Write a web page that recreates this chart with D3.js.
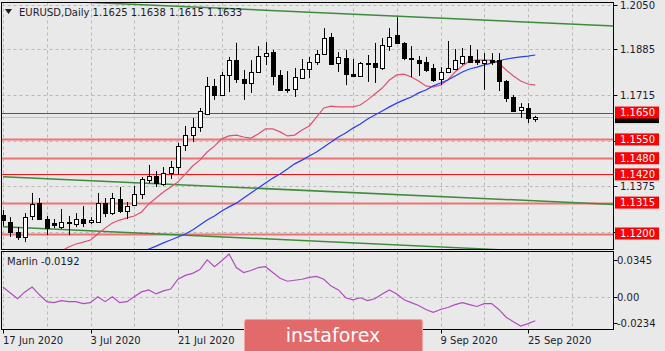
<!DOCTYPE html>
<html><head><meta charset="utf-8">
<script src="https://cdn.jsdelivr.net/npm/d3@7"></script>
<style>
html,body{margin:0;padding:0;background:#e9e9e9;overflow:hidden}
svg{display:block}
text{font-family:"DejaVu Sans",Verdana,sans-serif;}
</style></head><body>
<svg id="c" width="665" height="351"></svg>
<script>
// ---------- DATA ----------
const symbol = "EURUSD,Daily";
const dateLabels = ["17 Jun 2020","3 Jul 2020","21 Jul 2020","9 Sep 2020","25 Sep 2020"];
const dateIndex = [0,12,24,60,72];
const dateTickIndex = [0,12,24,36,48,60,72];

const open  = [1.1269,1.1243,1.1206,1.1187,1.1265,1.1313,1.1254,1.1239,1.1224,1.1243,1.1235,1.1254,1.1243,1.1243,1.1313,1.1276,1.1328,1.1284,1.1306,1.1347,1.1399,1.1414,1.1384,1.1425,1.1447,1.1529,1.1566,1.1596,1.1644,1.1749,1.1715,1.1790,1.1845,1.1775,1.1760,1.1801,1.1860,1.1875,1.1790,1.1738,1.1738,1.1778,1.1812,1.1838,1.1868,1.1931,1.1834,1.1853,1.1793,1.1786,1.1834,1.1834,1.1816,1.1897,1.1938,1.1909,1.1853,1.1845,1.1838,1.1816,1.1775,1.1801,1.1812,1.1834,1.1860,1.1845,1.1834,1.1845,1.1845,1.1767,1.1708,1.1659,1.1667,1.1625];
const high  = [1.1287,1.1261,1.1224,1.1276,1.1351,1.1332,1.1265,1.1254,1.1291,1.1265,1.1276,1.1302,1.1261,1.1351,1.1332,1.1351,1.1373,1.1317,1.1377,1.1410,1.1455,1.1432,1.1447,1.1470,1.1537,1.1600,1.1630,1.1667,1.1782,1.1775,1.1801,1.1857,1.1909,1.1808,1.1845,1.1897,1.1912,1.1883,1.1808,1.1804,1.1816,1.1849,1.1857,1.1883,1.1964,1.1946,1.1875,1.1883,1.1849,1.1838,1.1864,1.1909,1.1927,1.1964,1.2005,1.1912,1.1897,1.1860,1.1857,1.1831,1.1819,1.1916,1.1886,1.1890,1.1901,1.1883,1.1871,1.1871,1.1871,1.1771,1.1715,1.1685,1.1685,1.1638];
const low   = [1.1228,1.1187,1.1176,1.1168,1.1250,1.1250,1.1194,1.1220,1.1217,1.1194,1.1224,1.1224,1.1235,1.1240,1.1261,1.1269,1.1276,1.1254,1.1302,1.1328,1.1388,1.1373,1.1377,1.1403,1.1421,1.1507,1.1540,1.1578,1.1640,1.1697,1.1711,1.1726,1.1760,1.1697,1.1723,1.1797,1.1827,1.1752,1.1730,1.1723,1.1708,1.1775,1.1778,1.1827,1.1864,1.1827,1.1801,1.1752,1.1782,1.1782,1.1764,1.1760,1.1808,1.1879,1.1905,1.1845,1.1782,1.1786,1.1801,1.1764,1.1752,1.1797,1.1808,1.1827,1.1834,1.1827,1.1734,1.1827,1.1730,1.1689,1.1652,1.1630,1.1611,1.1615];
const close = [1.1250,1.1206,1.1187,1.1261,1.1310,1.1254,1.1220,1.1232,1.1243,1.1238,1.1254,1.1239,1.1250,1.1313,1.1276,1.1332,1.1284,1.1302,1.1347,1.1403,1.1414,1.1388,1.1425,1.1447,1.1525,1.1566,1.1596,1.1656,1.1749,1.1715,1.1790,1.1845,1.1775,1.1760,1.1801,1.1860,1.1871,1.1786,1.1734,1.1734,1.1782,1.1812,1.1838,1.1868,1.1927,1.1831,1.1857,1.1793,1.1786,1.1834,1.1831,1.1819,1.1901,1.1931,1.1909,1.1853,1.1849,1.1834,1.1808,1.1771,1.1801,1.1816,1.1845,1.1860,1.1838,1.1838,1.1845,1.1838,1.1767,1.1704,1.1656,1.1671,1.1630,1.1633];

const maFast = [null,null,null,null,null,null,null,null,
 1.1135,1.1150,1.1161,1.1168,1.1176,1.1198,1.1220,1.1239,1.1250,1.1258,1.1265,1.1280,1.1310,1.1332,1.1354,1.1373,1.1392,
 1.1421,1.1451,1.1473,1.1503,1.1525,1.1552,1.1563,1.1566,1.1559,1.1555,1.1570,1.1589,1.1589,1.1578,1.1563,1.1566,1.1585,1.1600,1.1633,1.1667,1.1674,1.1671,1.1671,1.1671,1.1678,
 1.1697,1.1719,1.1741,1.1771,1.1790,1.1793,1.1782,1.1767,1.1749,1.1745,1.1752,1.1771,1.1801,1.1823,1.1842,1.1845,1.1845,1.1845,1.1834,1.1808,1.1786,1.1767,1.1756,1.1752];
const maSlow = [null,null,null,null,null,null,null,null,null,null,null,null,null,null,null,null,null,null,null,
 1.1130,
 1.1142,1.1153,1.1165,1.1176,1.1187,1.1198,1.1213,1.1232,1.1250,1.1265,
 1.1284,1.1299,1.1313,1.1332,1.1351,1.1369,1.1388,1.1406,1.1421,1.1440,
 1.1459,1.1473,1.1488,1.1503,1.1522,1.1540,1.1559,1.1574,1.1592,1.1607,
 1.1626,1.1641,1.1656,1.1671,1.1685,1.1697,1.1708,1.1723,1.1734,1.1749,
 1.1760,1.1771,1.1786,1.1801,1.1812,1.1819,1.1827,1.1834,1.1842,1.1849,
 1.1853,1.1857,1.1860,1.1864];

const marlin = [0.0079,0.0032,-0.0015,0.0040,0.0079,0.0017,-0.0038,-0.0046,-0.0030,-0.0038,
 -0.0038,-0.0054,-0.0046,0.0001,-0.0038,0.0001,-0.0046,-0.0038,0.0001,0.0040,
 0.0056,0.0024,0.0048,0.0063,0.0142,0.0173,0.0189,0.0220,0.0298,0.0243,
 0.0290,0.0345,0.0236,0.0196,0.0212,0.0236,0.0243,0.0196,0.0150,0.0126,
 0.0134,0.0142,0.0157,0.0165,0.0142,0.0087,0.0056,-0.0007,-0.0023,-0.0007,
 -0.0030,-0.0015,0.0024,0.0056,0.0024,-0.0023,-0.0046,-0.0069,-0.0101,-0.0124,
 -0.0101,-0.0085,-0.0062,-0.0046,-0.0062,-0.0077,-0.0054,-0.0054,-0.0101,-0.0163,
 -0.0200,-0.0234,-0.0215,-0.0192];

const priceTicks = [1.2050,1.1885,1.1715,1.1545,1.1375,1.1205];
const priceTickLabels = ["1.2050","1.1885","1.1715","1.1375"];
const marlinTicks = [0.0345,0,-0.0234];
const marlinTickLabels = ["0.0345","0.00","-0.0234"];
const levels = [1.1650,1.1550,1.1480,1.1420,1.1315,1.1200];
const strongLevels = [1.1650,1.1420];
const trendTop = [[0,1.2074],[84,1.1972]];
const trendMid = [[0,1.1411],[84,1.1308]];
const trendLow = [[0,1.1225],[84,1.1120]];

// ---------- LAYOUT ----------
const W=665,H=351;
const M={l:1.5,r:613.5,t:2.5,b:249.5};
const I={t:251.5,b:329.5};
const svg=d3.select("#c");
svg.append("rect").attr("width",W).attr("height",H).attr("fill","#e9e9e9");

const x=d3.scaleLinear().domain([0,72]).range([3,528]);
const y=d3.scaleLinear().domain([1.12,1.205]).range([233.5,5]);
const ym=d3.scaleLinear().domain([-0.0234,0.0345]).range([326,254]);

const defs=svg.append("defs");
defs.append("clipPath").attr("id","cm").append("rect").attr("x",M.l).attr("y",M.t).attr("width",M.r-M.l).attr("height",M.b-M.t);
defs.append("clipPath").attr("id","ci").append("rect").attr("x",M.l).attr("y",I.t).attr("width",M.r-M.l).attr("height",I.b-I.t);

const gm=svg.append("g").attr("clip-path","url(#cm)");
const gi=svg.append("g").attr("clip-path","url(#ci)");
const gridCol="#b9b9b9";
const px=v=>Math.round(v)+0.5;

// vertical grid
const vIdx=d3.range(0,86,6);
[ [gm,M.t,M.b],[gi,I.t,I.b] ].forEach(([g,t,b])=>{
  g.selectAll(null).data(vIdx).enter().append("line")
   .attr("x1",d=>px(x(d))).attr("x2",d=>px(x(d))).attr("y1",t).attr("y2",b)
   .attr("stroke",gridCol).attr("stroke-dasharray","3,3");
});
gm.selectAll(null).data(priceTicks).enter().append("line")
  .attr("x1",M.l).attr("x2",M.r).attr("y1",d=>px(y(d))).attr("y2",d=>px(y(d)))
  .attr("stroke",gridCol).attr("stroke-dasharray","3,3");
gi.append("line").attr("x1",M.l).attr("x2",M.r).attr("y1",px(ym(0))).attr("y2",px(ym(0)))
  .attr("stroke",gridCol).attr("stroke-dasharray","3,3");

// bid line
const last=close.length-1;
gm.append("line").attr("x1",M.l).attr("x2",M.r).attr("y1",px(y(close[last]))).attr("y2",px(y(close[last])))
  .attr("stroke","#c4c4c4").attr("stroke-width",1);

// levels
gm.selectAll(null).data(levels).enter().append("line")
  .attr("x1",M.l).attr("x2",M.r).attr("y1",d=>px(y(d))).attr("y2",d=>px(y(d)))
  .attr("stroke",d=>strongLevels.includes(d)?"#ff1010":"#f07272")
  .attr("stroke-width",d=>strongLevels.includes(d)?1.2:2.2);

// trend lines
const tl=d3.line().x(d=>x(d[0])).y(d=>y(d[1]));
[trendTop,trendMid,trendLow].forEach(t=>{
  gm.append("path").attr("d",tl(t)).attr("fill","none").attr("stroke","#3c8c3c").attr("stroke-width",1.5);
});

// moving averages
const ml=d3.line().defined(d=>d!=null).x((d,i)=>x(i)).y(d=>y(d));
gm.append("path").attr("d",ml(maFast)).attr("fill","none").attr("stroke","#e4506e").attr("stroke-width",1.2);
gm.append("path").attr("d",ml(maSlow)).attr("fill","none").attr("stroke","#2a3cff").attr("stroke-width",1.2);

// candles
const cg=gm.selectAll(null).data(open.map((o,i)=>({i,o,h:high[i],l:low[i],c:close[i]}))).enter().append("g");
cg.append("line").attr("x1",d=>px(x(d.i))).attr("x2",d=>px(x(d.i)))
  .attr("y1",d=>y(d.h)).attr("y2",d=>y(d.l)).attr("stroke","#000").attr("stroke-width",1);
cg.append("rect")
  .attr("x",d=>px(x(d.i))-2).attr("width",4)
  .attr("y",d=>Math.round(y(Math.max(d.o,d.c)))+0.5)
  .attr("height",d=>Math.max(1,Math.round(Math.abs(y(d.o)-y(d.c)))))
  .attr("fill",d=>d.c>=d.o?"#ffffff":"#000000").attr("stroke","#000").attr("stroke-width",1);

// marlin
const mm=d3.line().x((d,i)=>x(i)).y(d=>ym(d));
gi.append("path").attr("d",mm(marlin)).attr("fill","none").attr("stroke","#b04cc0").attr("stroke-width",1.2);

// frames
svg.append("rect").attr("x",M.l).attr("y",M.t).attr("width",M.r-M.l).attr("height",M.b-M.t).attr("fill","none").attr("stroke","#000");
svg.append("rect").attr("x",M.l).attr("y",I.t).attr("width",M.r-M.l).attr("height",I.b-I.t).attr("fill","none").attr("stroke","#000");

const txtCol="#1c1c2a";
// price axis
const pa=svg.append("g");
pa.selectAll(null).data(priceTicks).enter().append("line")
  .attr("x1",M.r).attr("x2",M.r+4).attr("y1",d=>px(y(d))).attr("y2",d=>px(y(d))).attr("stroke","#000");
pa.selectAll(null).data(priceTickLabels).enter().append("text")
  .attr("x",620).attr("y",d=>y(+d)).attr("dy","0.36em").attr("font-size",10).attr("fill",txtCol)
  .text(d=>d);

// bid label (black box, mostly hidden) then level labels
pa.append("rect").attr("x",615).attr("y",y(close[last])-6).attr("width",44).attr("height",12).attr("fill","#000");
levels.forEach(L=>{
  pa.append("rect").attr("x",615).attr("y",y(L)-6).attr("width",44).attr("height",12).attr("fill","#ff0000");
  pa.append("text").attr("x",620).attr("y",y(L)).attr("dy","0.36em").attr("font-size",10).attr("fill","#fff").text(L.toFixed(4));
});

// marlin axis
marlinTicks.forEach((v,k)=>{
  const ty=Math.max(260,Math.min(323,ym(v)));
  pa.append("line").attr("x1",M.r).attr("x2",M.r+4).attr("y1",px(ty)).attr("y2",px(ty)).attr("stroke","#000");
  pa.append("text").attr("x",617).attr("y",ty).attr("dy","0.36em").attr("font-size",10).attr("fill",txtCol).text(marlinTickLabels[k]);
});

// date axis
dateTickIndex.forEach(di=>{
  pa.append("line").attr("x1",px(x(di))).attr("x2",px(x(di))).attr("y1",I.b).attr("y2",I.b+4).attr("stroke","#000");
});
dateIndex.forEach((di,k)=>{
  pa.append("text").attr("x",x(di)).attr("y",344).attr("font-size",10).attr("fill",txtCol).text(dateLabels[k]);
});

// titles
svg.append("path").attr("d","M5,9 L12,9 L8.5,14 Z").attr("fill",txtCol);
svg.append("text").attr("x",19).attr("y",16).attr("font-size",10).attr("fill",txtCol)
  .text(symbol+"  "+[open[last],high[last],low[last],close[last]].map(v=>v.toFixed(4)).join(" "));
svg.append("text").attr("x",7).attr("y",265).attr("font-size",10).attr("fill",txtCol)
  .text("Marlin "+marlin[last].toFixed(4));

// logo
svg.append("rect").attr("x",244.5).attr("y",319.5).attr("width",178).attr("height",34).attr("rx",2)
  .attr("fill","#e36a6a").attr("stroke","#f2a4a4").attr("stroke-width",1);
svg.append("text").attr("x",333).attr("y",342).attr("text-anchor","middle")
  .attr("font-family","'Open Sans',sans-serif").attr("font-size",19).attr("fill","#ffffff").text("instaforex");
</script>
</body></html>
